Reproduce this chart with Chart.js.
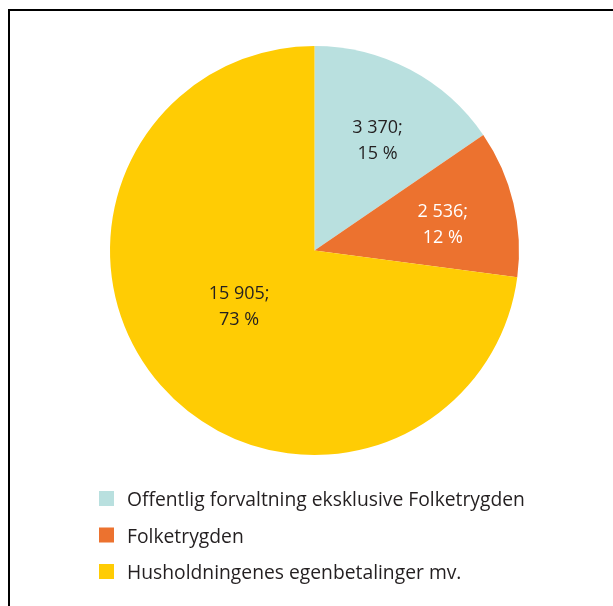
<!DOCTYPE html>
<html>
<head>
<meta charset="utf-8">
<script src="https://cdn.jsdelivr.net/npm/chart.js@4/dist/chart.umd.min.js"></script>
<style>
  html, body { margin: 0; padding: 0; background: #fff; }
  #wrap { position: relative; width: 613px; height: 606px; overflow: hidden; }
  #frame { position: absolute; left: 8px; top: 9px; width: 700px; height: 700px;
           border-left: 2px solid #000; border-top: 2px solid #000; box-sizing: border-box; }
  canvas { position: absolute; left: 0; top: 0; }
</style>
</head>
<body>
<div id="wrap">
  <div id="frame"></div>
  <canvas id="c" width="613" height="606"></canvas>
</div>
<script>
const categories = [
  "Offentlig forvaltning eksklusive Folketrygden",
  "Folketrygden",
  "Husholdningenes egenbetalinger mv."
];
const values = [3370, 2536, 15905];
const sliceColors = ["#b9e0df", "#ec722f", "#ffcc04"];
const labelColors = ["#231f20", "#ffffff", "#231f20"];

const FONT = '"Open Sans", sans-serif';

function fmt(n) {
  return String(n).replace(/\B(?=(\d{3})+(?!\d))/g, " ");
}

const sliceLabels = {
  id: "sliceLabels",
  afterDatasetsDraw(chart, args, opts) {
    const ctx = chart.ctx;
    const meta = chart.getDatasetMeta(0);
    const data = chart.data.datasets[0].data;
    const total = data.reduce((a, b) => a + b, 0);
    ctx.save();
    ctx.font = opts.size + "px " + FONT;
    ctx.textAlign = "center";
    ctx.textBaseline = "middle";
    meta.data.forEach((arc, i) => {
      const p = arc.getProps(["x", "y", "startAngle", "endAngle", "outerRadius"], true);
      const mid = (p.startAngle + p.endAngle) / 2 + opts.angleShift[i] * Math.PI / 180;
      const r = p.outerRadius * opts.radius[i];
      const x = p.x + Math.cos(mid) * r;
      const y = p.y + Math.sin(mid) * r;
      const pct = Math.round(data[i] / total * 100);
      ctx.fillStyle = labelColors[i];
      ctx.fillText(fmt(data[i]) + ";", x, y - opts.lineGap / 2);
      ctx.fillText(pct + " %", x, y + opts.lineGap / 2);
    });
    ctx.restore();
  }
};

const canvasLegend = {
  id: "canvasLegend",
  afterDraw(chart, args, opts) {
    const ctx = chart.ctx;
    const labels = chart.data.labels;
    const colors = chart.data.datasets[0].backgroundColor;
    ctx.save();
    ctx.font = opts.size + "px " + FONT;
    ctx.textAlign = "left";
    ctx.textBaseline = "alphabetic";
    labels.forEach((lab, i) => {
      const top = opts.top + i * opts.step;
      ctx.fillStyle = colors[i];
      ctx.fillRect(opts.left, top, opts.box, opts.box);
      ctx.fillStyle = "#231f20";
      ctx.fillText(lab, opts.textLeft, top + opts.box);
    });
    ctx.restore();
  }
};

new Chart(document.getElementById("c"), {
  type: "pie",
  data: {
    labels: categories,
    datasets: [{
      data: values,
      backgroundColor: sliceColors,
      borderWidth: 0,
      hoverOffset: 0
    }]
  },
  options: {
    responsive: false,
    animation: false,
    layout: { padding: { left: 110, right: 94, top: 46, bottom: 151 } },
    plugins: {
      legend: { display: false },
      tooltip: { enabled: false },
      sliceLabels: { size: 18, lineGap: 26, radius: [0.62, 0.64, 0.46], angleShift: [2, 2, 4.5] },
      canvasLegend: { left: 99, top: 491, step: 36.5, box: 15, textLeft: 127, size: 19.3 }
    }
  },
  plugins: [sliceLabels, canvasLegend]
});
</script>
</body>
</html>
